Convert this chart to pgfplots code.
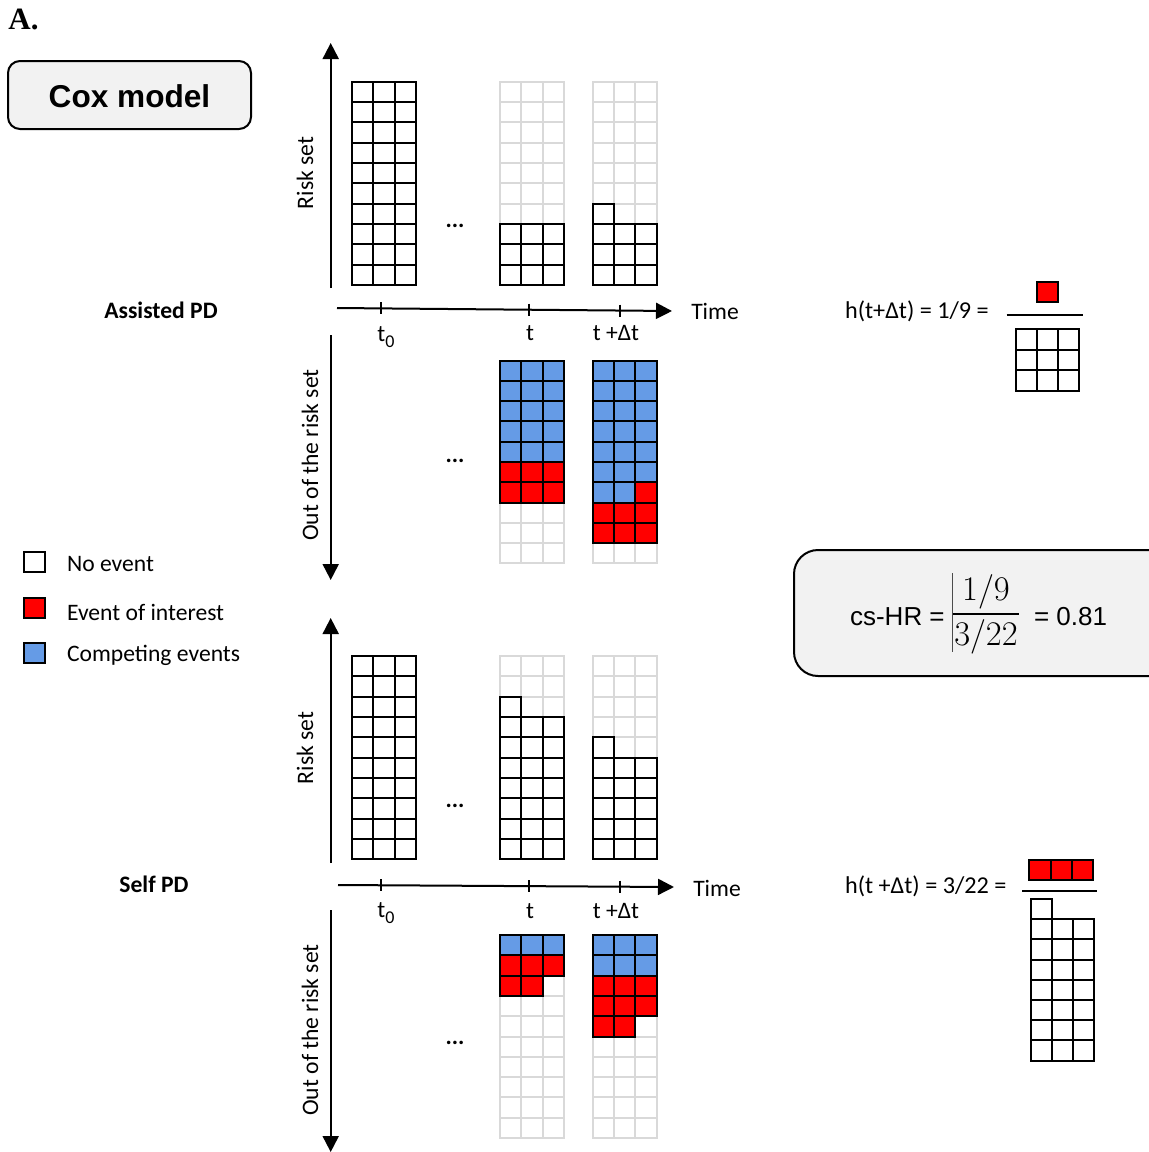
\documentclass[border=0pt]{standalone}
\usepackage{pgfplots}
\pgfplotsset{compat=1.18}
\usetikzlibrary{arrows.meta}
\usepackage{fontspec}
\setmainfont{Carlito}
\newfontfamily\arialf{Liberation Sans}
\newfontfamily\seriff{Liberation Serif}
\definecolor{cred}{RGB}{255,0,0}
\definecolor{cblue}{RGB}{101,155,230}
\definecolor{cgrey}{RGB}{217,217,217}
\definecolor{boxgrey}{RGB}{242,242,242}
\pgfdeclareplotmark{cell}{\pgfpathrectangle{\pgfpoint{-5.33pt}{-5.08pt}}{\pgfpoint{10.66pt}{10.16pt}}\pgfusepathqfillstroke}
\newcommand\fs{\fontsize{11.8}{14}\selectfont}
\newcommand\tzero{t\raisebox{-0.55ex}{\fontsize{9}{10}\selectfont 0}}
\begin{document}
\begin{tikzpicture}
\begin{axis}[name=ax, scale only axis, width=574.5pt, height=576pt,
  xmin=0, xmax=1149, ymin=0, ymax=1152, y dir=reverse, hide axis, clip=false]
% ---- grey (empty) cells
\addplot[only marks, mark=cell, mark options={draw=cgrey, fill=white, line width=1pt}] coordinates {
(510.7,91.7)(510.7,112.0)(510.7,132.4)(510.7,152.7)(510.7,173.1)(510.7,193.4)(510.7,213.8)(510.7,234.1)(510.7,254.5)(510.7,274.8)
(532.0,91.7)(532.0,112.0)(532.0,132.4)(532.0,152.7)(532.0,173.1)(532.0,193.4)(532.0,213.8)(532.0,234.1)(532.0,254.5)(532.0,274.8)
(553.3,91.7)(553.3,112.0)(553.3,132.4)(553.3,152.7)(553.3,173.1)(553.3,193.4)(553.3,213.8)(553.3,234.1)(553.3,254.5)(553.3,274.8)
(603.4,91.7)(603.4,112.0)(603.4,132.4)(603.4,152.7)(603.4,173.1)(603.4,193.4)(603.4,213.8)(603.4,234.1)(603.4,254.5)(603.4,274.8)
(624.7,91.7)(624.7,112.0)(624.7,132.4)(624.7,152.7)(624.7,173.1)(624.7,193.4)(624.7,213.8)(624.7,234.1)(624.7,254.5)(624.7,274.8)
(646.0,91.7)(646.0,112.0)(646.0,132.4)(646.0,152.7)(646.0,173.1)(646.0,193.4)(646.0,213.8)(646.0,234.1)(646.0,254.5)(646.0,274.8)
(510.7,370.8)(510.7,391.1)(510.7,411.4)(510.7,431.6)(510.7,451.9)(510.7,472.2)(510.7,492.4)(510.7,512.7)(510.7,532.9)(510.7,553.2)
(532.0,370.8)(532.0,391.1)(532.0,411.4)(532.0,431.6)(532.0,451.9)(532.0,472.2)(532.0,492.4)(532.0,512.7)(532.0,532.9)(532.0,553.2)
(553.3,370.8)(553.3,391.1)(553.3,411.4)(553.3,431.6)(553.3,451.9)(553.3,472.2)(553.3,492.4)(553.3,512.7)(553.3,532.9)(553.3,553.2)
(603.4,370.8)(603.4,391.1)(603.4,411.4)(603.4,431.6)(603.4,451.9)(603.4,472.2)(603.4,492.4)(603.4,512.7)(603.4,532.9)(603.4,553.2)
(624.7,370.8)(624.7,391.1)(624.7,411.4)(624.7,431.6)(624.7,451.9)(624.7,472.2)(624.7,492.4)(624.7,512.7)(624.7,532.9)(624.7,553.2)
(646.0,370.8)(646.0,391.1)(646.0,411.4)(646.0,431.6)(646.0,451.9)(646.0,472.2)(646.0,492.4)(646.0,512.7)(646.0,532.9)(646.0,553.2)
(510.7,666.2)(510.7,686.5)(510.7,706.9)(510.7,727.2)(510.7,747.6)(510.7,767.9)(510.7,788.3)(510.7,808.6)(510.7,829.0)(510.7,849.3)
(532.0,666.2)(532.0,686.5)(532.0,706.9)(532.0,727.2)(532.0,747.6)(532.0,767.9)(532.0,788.3)(532.0,808.6)(532.0,829.0)(532.0,849.3)
(553.3,666.2)(553.3,686.5)(553.3,706.9)(553.3,727.2)(553.3,747.6)(553.3,767.9)(553.3,788.3)(553.3,808.6)(553.3,829.0)(553.3,849.3)
(603.4,666.2)(603.4,686.5)(603.4,706.9)(603.4,727.2)(603.4,747.6)(603.4,767.9)(603.4,788.3)(603.4,808.6)(603.4,829.0)(603.4,849.3)
(624.7,666.2)(624.7,686.5)(624.7,706.9)(624.7,727.2)(624.7,747.6)(624.7,767.9)(624.7,788.3)(624.7,808.6)(624.7,829.0)(624.7,849.3)
(646.0,666.2)(646.0,686.5)(646.0,706.9)(646.0,727.2)(646.0,747.6)(646.0,767.9)(646.0,788.3)(646.0,808.6)(646.0,829.0)(646.0,849.3)
(510.7,945.2)(510.7,965.5)(510.7,985.8)(510.7,1006.1)(510.7,1026.4)(510.7,1046.7)(510.7,1067.0)(510.7,1087.3)(510.7,1107.6)(510.7,1127.9)
(532.0,945.2)(532.0,965.5)(532.0,985.8)(532.0,1006.1)(532.0,1026.4)(532.0,1046.7)(532.0,1067.0)(532.0,1087.3)(532.0,1107.6)(532.0,1127.9)
(553.3,945.2)(553.3,965.5)(553.3,985.8)(553.3,1006.1)(553.3,1026.4)(553.3,1046.7)(553.3,1067.0)(553.3,1087.3)(553.3,1107.6)(553.3,1127.9)
(603.4,945.2)(603.4,965.5)(603.4,985.8)(603.4,1006.1)(603.4,1026.4)(603.4,1046.7)(603.4,1067.0)(603.4,1087.3)(603.4,1107.6)(603.4,1127.9)
(624.7,945.2)(624.7,965.5)(624.7,985.8)(624.7,1006.1)(624.7,1026.4)(624.7,1046.7)(624.7,1067.0)(624.7,1087.3)(624.7,1107.6)(624.7,1127.9)
(646.0,945.2)(646.0,965.5)(646.0,985.8)(646.0,1006.1)(646.0,1026.4)(646.0,1046.7)(646.0,1067.0)(646.0,1087.3)(646.0,1107.6)(646.0,1127.9)
};
% ---- no event (black outline, white fill)
\addplot[only marks, mark=cell, mark options={draw=black, fill=white, line width=1pt}] coordinates {
(362.9,91.7)(362.9,112.0)(362.9,132.4)(362.9,152.7)(362.9,173.1)(362.9,193.4)(362.9,213.8)(362.9,234.1)(362.9,254.5)(362.9,274.8)
(384.0,91.7)(384.0,112.0)(384.0,132.4)(384.0,152.7)(384.0,173.1)(384.0,193.4)(384.0,213.8)(384.0,234.1)(384.0,254.5)(384.0,274.8)
(405.2,91.7)(405.2,112.0)(405.2,132.4)(405.2,152.7)(405.2,173.1)(405.2,193.4)(405.2,213.8)(405.2,234.1)(405.2,254.5)(405.2,274.8)
(510.7,234.1)(510.7,254.5)(510.7,274.8)(532.0,234.1)(532.0,254.5)(532.0,274.8)(553.3,234.1)(553.3,254.5)(553.3,274.8)
(603.4,213.8)(603.4,234.1)(603.4,254.5)(603.4,274.8)(624.7,234.1)(624.7,254.5)(624.7,274.8)(646.0,234.1)(646.0,254.5)(646.0,274.8)
(362.9,666.2)(362.9,686.5)(362.9,706.9)(362.9,727.2)(362.9,747.6)(362.9,767.9)(362.9,788.3)(362.9,808.6)(362.9,829.0)(362.9,849.3)
(384.0,666.2)(384.0,686.5)(384.0,706.9)(384.0,727.2)(384.0,747.6)(384.0,767.9)(384.0,788.3)(384.0,808.6)(384.0,829.0)(384.0,849.3)
(405.2,666.2)(405.2,686.5)(405.2,706.9)(405.2,727.2)(405.2,747.6)(405.2,767.9)(405.2,788.3)(405.2,808.6)(405.2,829.0)(405.2,849.3)
(510.7,706.9)(510.7,727.2)(510.7,747.6)(510.7,767.9)(510.7,788.3)(510.7,808.6)(510.7,829.0)(510.7,849.3)
(532.0,727.2)(532.0,747.6)(532.0,767.9)(532.0,788.3)(532.0,808.6)(532.0,829.0)(532.0,849.3)
(553.3,727.2)(553.3,747.6)(553.3,767.9)(553.3,788.3)(553.3,808.6)(553.3,829.0)(553.3,849.3)
(603.4,747.6)(603.4,767.9)(603.4,788.3)(603.4,808.6)(603.4,829.0)(603.4,849.3)
(624.7,767.9)(624.7,788.3)(624.7,808.6)(624.7,829.0)(624.7,849.3)
(646.0,767.9)(646.0,788.3)(646.0,808.6)(646.0,829.0)(646.0,849.3)
(1026.3,339.5)(1026.3,360.0)(1026.3,380.5)(1047.5,339.5)(1047.5,360.0)(1047.5,380.5)(1068.7,339.5)(1068.7,360.0)(1068.7,380.5)
(1041.3,909.2)(1041.3,929.4)(1041.3,949.6)(1041.3,969.8)(1041.3,990.0)(1041.3,1010.2)(1041.3,1030.4)(1041.3,1050.6)
(1062.5,929.4)(1062.5,949.6)(1062.5,969.8)(1062.5,990.0)(1062.5,1010.2)(1062.5,1030.4)(1062.5,1050.6)
(1083.7,929.4)(1083.7,949.6)(1083.7,969.8)(1083.7,990.0)(1083.7,1010.2)(1083.7,1030.4)(1083.7,1050.6)
(34.2,562.0)
};
% ---- competing events (blue)
\addplot[only marks, mark=cell, mark options={draw=black, fill=cblue, line width=1pt}] coordinates {
(510.7,370.8)(510.7,391.1)(510.7,411.4)(510.7,431.6)(510.7,451.9)
(532.0,370.8)(532.0,391.1)(532.0,411.4)(532.0,431.6)(532.0,451.9)
(553.3,370.8)(553.3,391.1)(553.3,411.4)(553.3,431.6)(553.3,451.9)
(603.4,370.8)(603.4,391.1)(603.4,411.4)(603.4,431.6)(603.4,451.9)(603.4,472.2)(603.4,492.4)
(624.7,370.8)(624.7,391.1)(624.7,411.4)(624.7,431.6)(624.7,451.9)(624.7,472.2)(624.7,492.4)
(646.0,370.8)(646.0,391.1)(646.0,411.4)(646.0,431.6)(646.0,451.9)(646.0,472.2)
(510.7,945.2)(532.0,945.2)(553.3,945.2)
(603.4,945.2)(603.4,965.5)(624.7,945.2)(624.7,965.5)(646.0,945.2)(646.0,965.5)
(34.2,653.0)
};
% ---- event of interest (red)
\addplot[only marks, mark=cell, mark options={draw=black, fill=cred, line width=1pt}] coordinates {
(510.7,472.2)(510.7,492.4)(532.0,472.2)(532.0,492.4)(553.3,472.2)(553.3,492.4)
(646.0,492.4)(603.4,512.7)(603.4,532.9)(624.7,512.7)(624.7,532.9)(646.0,512.7)(646.0,532.9)
(510.7,965.5)(532.0,965.5)(553.3,965.5)(510.7,985.8)(532.0,985.8)
(603.4,985.8)(603.4,1006.1)(603.4,1026.4)(624.7,985.8)(624.7,1006.1)(624.7,1026.4)(646.0,985.8)(646.0,1006.1)
(1047.5,292.2)
(1040.0,869.7)(1061.3,869.7)(1082.7,869.7)
(34.2,607.8)
};
% ---- arrows and axes of the diagram
\draw[line width=1pt, -{Triangle[length=8pt,width=8pt]}] (axis cs:330.7,288) -- (axis cs:330.7,43);
\draw[line width=1pt, -{Triangle[length=8pt,width=8pt]}] (axis cs:330.7,335) -- (axis cs:330.7,580);
\draw[line width=1pt, -{Triangle[length=8pt,width=8pt]}] (axis cs:337,308) -- (axis cs:672,311);
\draw[line width=1pt] (axis cs:381,302.4) -- (axis cs:381,314.4);
\draw[line width=1pt] (axis cs:529,303.7) -- (axis cs:529,315.7);
\draw[line width=1pt] (axis cs:620,304.5) -- (axis cs:620,316.5);
\draw[line width=1pt, -{Triangle[length=8pt,width=8pt]}] (axis cs:330.7,863) -- (axis cs:330.7,618);
\draw[line width=1pt, -{Triangle[length=8pt,width=8pt]}] (axis cs:330.7,910) -- (axis cs:330.7,1152);
\draw[line width=1pt, -{Triangle[length=8pt,width=8pt]}] (axis cs:338,885) -- (axis cs:674,887);
\draw[line width=1pt] (axis cs:381,879.3) -- (axis cs:381,891.3);
\draw[line width=1pt] (axis cs:529,880.2) -- (axis cs:529,892.2);
\draw[line width=1pt] (axis cs:620,880.7) -- (axis cs:620,892.7);
% ---- boxes
\draw[line width=1pt, fill=boxgrey, rounded corners=6pt] (axis cs:8,61) rectangle (axis cs:251,129);
\node[font=\arialf\bfseries\fontsize{15.8}{18}\selectfont] at (axis cs:129.5,96) {Cox model};
\draw[line width=1pt, fill=boxgrey, rounded corners=12pt] (axis cs:794,550) rectangle (axis cs:1175,676);
\node[anchor=north west, inner sep=0pt, font=\seriff\bfseries\fontsize{15.5}{18}\selectfont] at (axis cs:8,9) {A.};
% ---- texts
\node[font=\fs\bfseries] at (axis cs:161,310) {Assisted PD};
\node[font=\fs\bfseries] at (axis cs:154,884) {Self PD};
\node[font=\fs, rotate=90] at (axis cs:305,173) {Risk set};
\node[font=\fs, rotate=90] at (axis cs:310,455) {Out of the risk set};
\node[font=\fs, rotate=90] at (axis cs:305,748) {Risk set};
\node[font=\fs, rotate=90] at (axis cs:310,1030) {Out of the risk set};
\node[font=\fs] at (axis cs:386,337) {\tzero};
\node[font=\fs] at (axis cs:530,333) {t};
\node[font=\fs] at (axis cs:616,333) {t +Δt};
\node[font=\fs] at (axis cs:386,913) {\tzero};
\node[font=\fs] at (axis cs:530,911) {t};
\node[font=\fs] at (axis cs:616,911) {t +Δt};
\node[font=\fs] at (axis cs:715,311) {Time};
\node[font=\fs] at (axis cs:717,888) {Time};
\node[font=\fs\bfseries] at (axis cs:455,226) {...};
\node[font=\fs\bfseries] at (axis cs:455,461) {...};
\node[font=\fs\bfseries] at (axis cs:455,806) {...};
\node[font=\fs\bfseries] at (axis cs:455,1043) {...};
\node[font=\fs, anchor=west] at (axis cs:60,564) {No event};
\node[font=\fs, anchor=west] at (axis cs:60,612) {Event of interest};
\node[font=\fs, anchor=west] at (axis cs:60,655) {Competing events};
\node[font=\fontsize{12.1}{14}\selectfont, anchor=west] at (axis cs:838,311) {h(t+Δt) = 1/9 =};
\node[font=\fontsize{12.1}{14}\selectfont, anchor=west] at (axis cs:838,886) {h(t +Δt) = 3/22 =};
\draw[line width=0.8pt] (axis cs:1006.7,315) -- (axis cs:1082.7,315);
\draw[line width=0.8pt] (axis cs:1022.3,890.7) -- (axis cs:1097.3,890.7);
\node[font=\arialf\fontsize{13}{15}\selectfont, anchor=west] at (axis cs:843,617) {cs-HR =};
\node[font=\arialf\fontsize{13}{15}\selectfont, anchor=west] at (axis cs:1027,617) {= 0.81};
\node[font=\fontsize{16.5}{18}\selectfont] at (axis cs:986,592) {$1/9$};
\node[font=\fontsize{16.5}{18}\selectfont] at (axis cs:986,637) {$3/22$};
\draw[line width=0.7pt] (axis cs:952,614) -- (axis cs:1019,614);
\draw[line width=0.5pt, black!70] (axis cs:952,573) -- (axis cs:952,652);
\end{axis}
\pgfresetboundingbox
\path[use as bounding box] (ax.south west) rectangle (ax.north east);
\end{tikzpicture}
\end{document}
